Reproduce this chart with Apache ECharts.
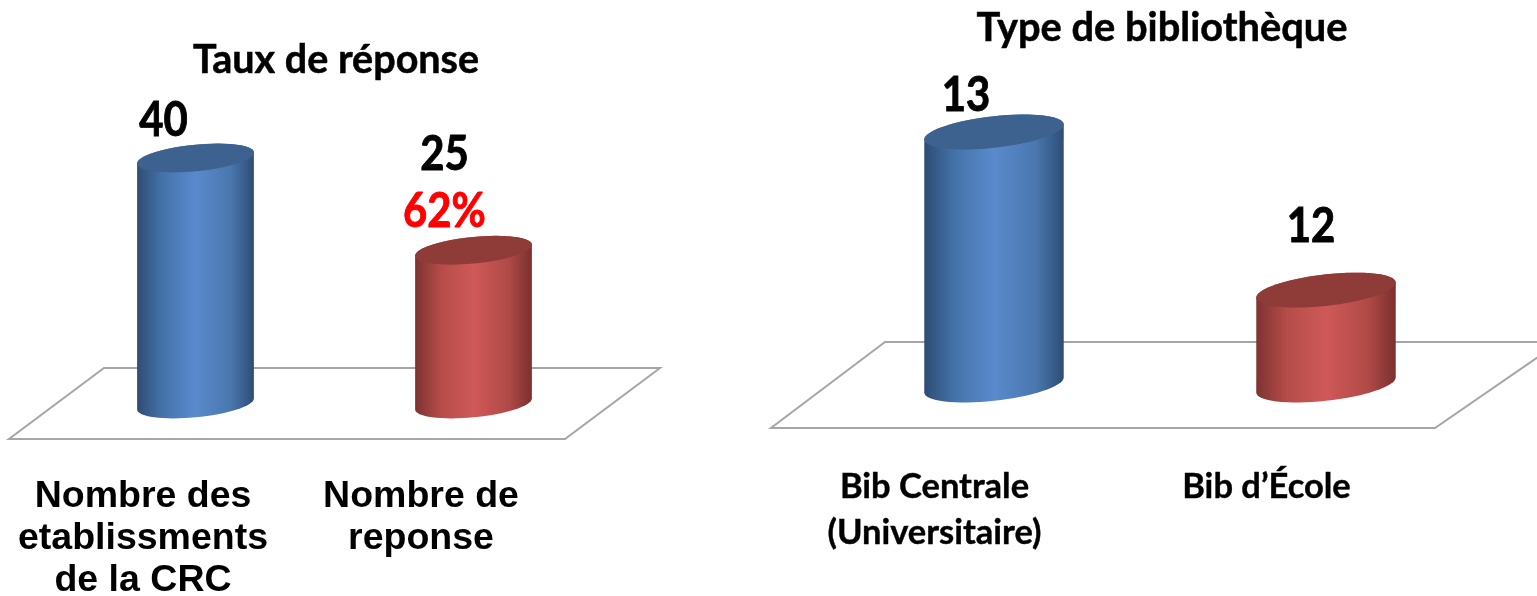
<!DOCTYPE html>
<html><head><meta charset="utf-8">
<style>html,body{margin:0;padding:0;background:#fff}#c{width:1537px;height:596px}</style>
<script src="https://cdn.jsdelivr.net/npm/echarts@6/dist/echarts.min.js"></script>
</head><body><div id="c"></div>
<script>
const titleLeft = 'Taux de réponse';
const titleRight = 'Type de bibliothèque';
const categoriesLeft = ['Nombre des\netablissments\nde la CRC', 'Nombre de\nreponse'];
const categoriesRight = ['Bib Centrale\n(Universitaire)', 'Bib d’École'];
const valuesLeft = [40, 25];
const valuesRight = [13, 12];
const ratesLeft = ['', '62%'];

const calibriLike = 'Lato, "Noto Sans", sans-serif';
const palettes = [
  {top:'#3e6290', stops:['#2e4c74','#4473aa','#5a8acd','#4a77ae','#2e4d75']},
  {top:'#8f3b38', stops:['#7d3331','#b54c49','#cf5958','#b04a47','#7a302f']}
];
function grad(st){
  const off=[0,.22,.5,.8,1];
  return {type:'linear',x:0,y:0,x2:1,y2:0,colorStops:st.map((c,i)=>({offset:off[i],color:c}))};
}
function ell(cx,cy,rx,k,h,from,to,n){
  const p=[];
  for(let i=0;i<=n;i++){
    const t=from+(to-from)*i/n;
    p.push([cx+rx*Math.cos(t), cy-k*Math.cos(t)+h*Math.sin(t)]);
  }
  return p;
}
function valueText(x,y,text,color,size){
  return {type:'text',x,y,scaleX:0.89,style:{x:0,y:0,text,fill:color,stroke:color,lineWidth:0.9,
    font:'bold '+size+'px '+calibriLike,textAlign:'center',textVerticalAlign:'middle'}};
}
function cylinder(cfg){
  return function(params,api){
    const i=api.value(0), v=api.value(1);
    const top=api.coord([i,v]), base=api.coord([i,cfg.min]);
    const rx=api.size([1,0])[0]*0.42/2;
    const pal=palettes[i];
    const body=[].concat(
      ell(top[0],top[1],rx,cfg.k,cfg.h,Math.PI,2*Math.PI,24),
      ell(base[0],base[1],rx,cfg.k,cfg.h,0,Math.PI,32));
    const lid=ell(top[0],top[1],rx,cfg.k,cfg.h,0,2*Math.PI,64);
    const o=cfg.offsets[i];
    const children=[
      {type:'polygon',shape:{points:body},style:{fill:grad(pal.stops)}},
      {type:'polygon',shape:{points:lid},style:{fill:pal.top}},
      valueText(top[0]+o[0],top[1]+o[1],String(v),'#000',cfg.labelSize)
    ];
    if(cfg.rates && cfg.rates[i]){
      children.push(valueText(top[0]+cfg.rateOffset[0],top[1]+cfg.rateOffset[1],cfg.rates[i],'#ff0000',cfg.labelSize));
    }
    return {type:'group',children};
  };
}
const hiddenY=(min,max,g)=>({type:'value',gridIndex:g,min,max,show:false});
const chart=echarts.init(document.getElementById('c'),null,{renderer:'canvas'});
const minRight=11.4;
chart.setOption({
  animation:false,
  backgroundColor:'#fff',
  title:[
    {text:titleLeft,left:331,top:35,textAlign:'center',textStyle:{fontFamily:calibriLike,fontWeight:'bold',fontSize:39.5,color:'#000',textBorderColor:'#000',textBorderWidth:0.5}},
    {text:titleRight,left:1157,top:3,textAlign:'center',textStyle:{fontFamily:calibriLike,fontWeight:'bold',fontSize:39.8,color:'#000',textBorderColor:'#000',textBorderWidth:0.5}}
  ],
  grid:[
    {left:56.5,width:556,top:158,height:246,outerBoundsMode:'none'},
    {left:828,width:664,top:132,height:253,outerBoundsMode:'none'}
  ],
  xAxis:[
    {type:'category',gridIndex:0,data:categoriesLeft,axisLine:{show:false},axisTick:{show:false},
     axisLabel:{interval:0,margin:72,padding:[0,105,0,0],fontFamily:'"Liberation Sans"',fontWeight:'bold',fontSize:37.5,lineHeight:42,color:'#000'}},
    {type:'category',gridIndex:1,data:categoriesRight,axisLine:{show:false},axisTick:{show:false},
     axisLabel:{interval:0,margin:79,padding:[0,119,0,0],fontFamily:calibriLike,fontWeight:'bold',fontSize:34.5,lineHeight:46,color:'#000',textBorderColor:'#000',textBorderWidth:0.4}}
  ],
  yAxis:[hiddenY(0,40,0),hiddenY(minRight,13,1)],
  graphic:[
    {type:'polygon',z:-1,shape:{points:[[104,368],[660,368],[565,439],[9,439]]},style:{fill:'#fff',stroke:'#a6a6a6',lineWidth:2}},
    {type:'polygon',z:-1,shape:{points:[[885,342],[1560,342],[1435,428],[771,428]]},style:{fill:'#fff',stroke:'#a6a6a6',lineWidth:2}}
  ],
  series:[
    {type:'custom',xAxisIndex:0,yAxisIndex:0,clip:false,z:5,data:valuesLeft.map((v,i)=>[i,v]),
     renderItem:cylinder({min:0,k:5.5,h:13.3,labelSize:47,offsets:[[-32,-37],[-29,-95]],rates:ratesLeft,rateOffset:[-29,-38]})},
    {type:'custom',xAxisIndex:1,yAxisIndex:1,clip:false,z:5,data:valuesRight.map((v,i)=>[i,v]),
     renderItem:cylinder({min:minRight,k:7.5,h:15.8,labelSize:47,offsets:[[-28,-36],[-15,-63]]})}
  ]
});
</script></body></html>
